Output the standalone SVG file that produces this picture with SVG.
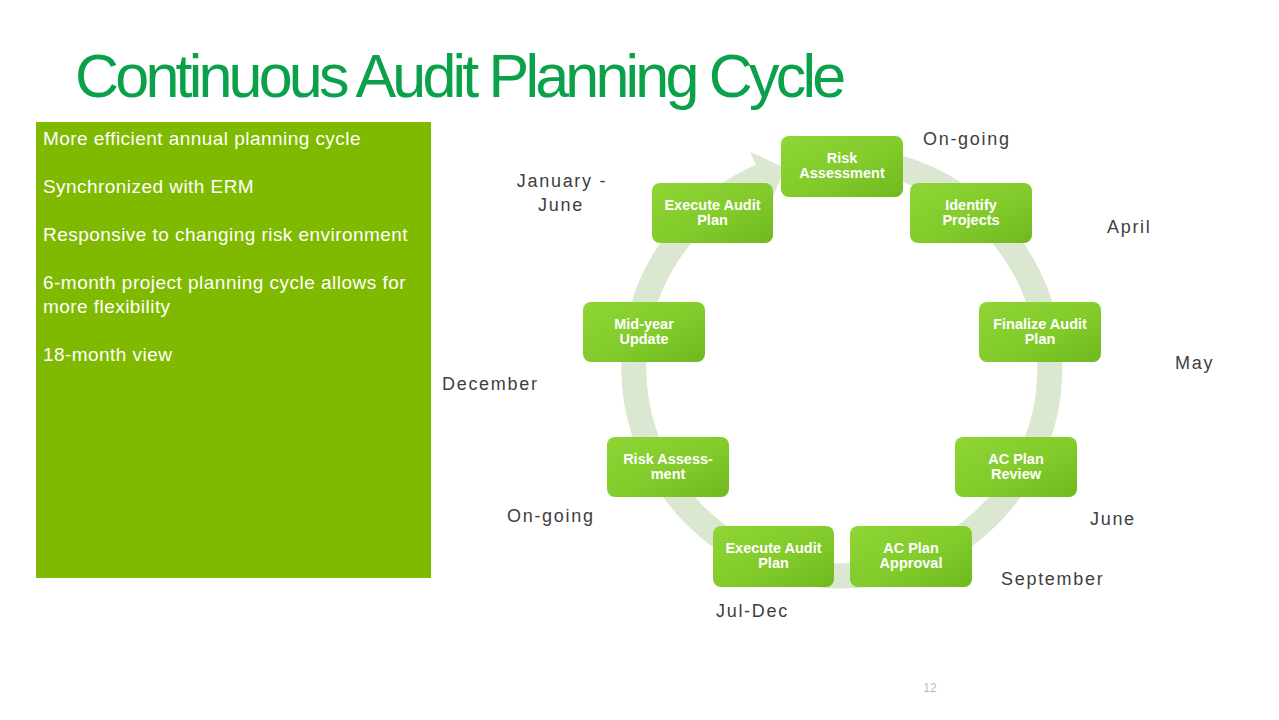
<svg xmlns="http://www.w3.org/2000/svg" width="1279" height="720" viewBox="0 0 1279 720">
<defs>
<linearGradient id="boxg" x1="0" y1="0" x2="1" y2="1">
<stop offset="0" stop-color="#8ed535"/>
<stop offset="0.55" stop-color="#82cb2b"/>
<stop offset="1" stop-color="#6fb81f"/>
</linearGradient>
<style>
.box{fill:url(#boxg);}
.bt{font-family:"Liberation Sans",Arial,sans-serif;font-size:14.5px;font-weight:bold;fill:#ffffff;text-anchor:middle;}
.lbl{font-family:"Liberation Sans",Arial,sans-serif;font-size:18px;fill:#404040;letter-spacing:1.7px;}
.lt{font-family:"Liberation Sans",Arial,sans-serif;font-size:19px;fill:#ffffff;letter-spacing:0.45px;}
</style>
</defs>
<rect width="1279" height="720" fill="#ffffff"/>
<text id="title" x="75" y="97" font-family="'Liberation Sans',Arial,sans-serif" font-size="61" fill="#0ba14b" letter-spacing="-3.8">Continuous Audit Planning Cycle</text>
<g id="benefits">
<rect x="36" y="122" width="395" height="456" fill="#7fba00"/>
<text class="lt" x="43" y="145">More efficient annual planning cycle</text>
<text class="lt" x="43" y="193">Synchronized with ERM</text>
<text class="lt" x="43" y="241">Responsive to changing risk environment</text>
<text class="lt" x="43" y="289" textLength="363" lengthAdjust="spacing">6-month project planning cycle allows for</text>
<text class="lt" x="43" y="313">more flexibility</text>
<text class="lt" x="43" y="361">18-month view</text>
</g>
<g id="connectors">
<path d="M 860.1 160.8 A 208 208 0 1 1 760.7 176.5" fill="none" stroke="#dbe7d0" stroke-width="25"/>
<polygon points="750.2,151.7 784.7,168 771.3,201.4" fill="#dbe7d0"/>
</g>
<g id="n1"><rect class="box" x="781" y="136" width="122" height="61" rx="8"/><text class="bt" x="842" y="163">Risk</text><text class="bt" x="842" y="178">Assessment</text></g>
<g id="n2"><rect class="box" x="910" y="183" width="122" height="60" rx="8"/><text class="bt" x="971" y="210">Identify</text><text class="bt" x="971" y="225">Projects</text></g>
<g id="n3"><rect class="box" x="979" y="302" width="122" height="60" rx="8"/><text class="bt" x="1040" y="329">Finalize Audit</text><text class="bt" x="1040" y="344">Plan</text></g>
<g id="n4"><rect class="box" x="955" y="437" width="122" height="60" rx="8"/><text class="bt" x="1016" y="464">AC Plan</text><text class="bt" x="1016" y="479">Review</text></g>
<g id="n5"><rect class="box" x="850" y="526" width="122" height="61" rx="8"/><text class="bt" x="911" y="553">AC Plan</text><text class="bt" x="911" y="568">Approval</text></g>
<g id="n6"><rect class="box" x="713" y="526" width="121" height="61" rx="8"/><text class="bt" x="773.5" y="553">Execute Audit</text><text class="bt" x="773.5" y="568">Plan</text></g>
<g id="n7"><rect class="box" x="607" y="437" width="122" height="60" rx="8"/><text class="bt" x="668" y="464">Risk Assess-</text><text class="bt" x="668" y="479">ment</text></g>
<g id="n8"><rect class="box" x="583" y="302" width="122" height="60" rx="8"/><text class="bt" x="644" y="329">Mid-year</text><text class="bt" x="644" y="344">Update</text></g>
<g id="n9"><rect class="box" x="652" y="183" width="121" height="60" rx="8"/><text class="bt" x="712.5" y="210">Execute Audit</text><text class="bt" x="712.5" y="225">Plan</text></g>
<g id="labels">
<text class="lbl" x="923" y="145">On-going</text>
<text class="lbl" x="1107" y="233">April</text>
<text class="lbl" x="1175" y="369">May</text>
<text class="lbl" x="1090" y="525">June</text>
<text class="lbl" x="1001" y="585">September</text>
<text class="lbl" x="716" y="617">Jul-Dec</text>
<text class="lbl" x="507" y="522">On-going</text>
<text class="lbl" x="442" y="390">December</text>
<text class="lbl" x="562" y="187" text-anchor="middle">January -</text>
<text class="lbl" x="561" y="211" text-anchor="middle">June</text>
</g>
<text id="page" x="930" y="692" font-family="'Liberation Sans',Arial,sans-serif" font-size="12" fill="#bbbbbb" text-anchor="middle">12</text>
</svg>
